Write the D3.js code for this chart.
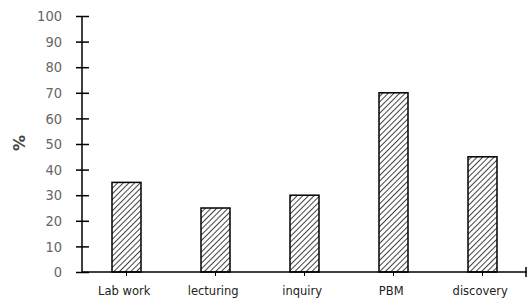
<!DOCTYPE html>
<html>
<head lang="en">
    <meta charset="UTF-8">
    <title> Bars </title>
    <script type="text/javascript" src="https://cdn.jsdelivr.net/npm/d3@7/dist/d3.min.js"></script>
    <style>
        body { margin: 0; background: #fff; }
    </style>
</head>
<body>
<div id="chart"></div>
<script>

    // data
    var categories = ["Lab work", "lecturing", "inquiry", "PBM", "discovery"];
    var values     = [35, 25, 30, 70, 45];
    var yTicks     = [0, 10, 20, 30, 40, 50, 60, 70, 80, 90, 100];

    var W = 527, H = 301;
    // note: "top" is taken by window.top, so use plot* names
    var plotLeft = 82, plotRight = 527, plotTop = 16, plotBottom = 272;

    var svg = d3.select("#chart").append("svg")
            .attr("width", W)
            .attr("height", H);

    // hatch pattern
    var pat = svg.append("defs").append("pattern")
            .attr("id", "hatch")
            .attr("patternUnits", "userSpaceOnUse")
            .attr("width", 4)
            .attr("height", 4)
            .attr("patternTransform", "rotate(45)");
    pat.append("rect").attr("width", 4).attr("height", 4).attr("fill", "#fff");
    pat.append("line")
            .attr("x1", 0).attr("y1", 0).attr("x2", 0).attr("y2", 4)
            .attr("stroke", "#111").attr("stroke-width", 1.6);

    var x = d3.scaleBand()
            .domain(categories)
            .range([plotLeft, plotRight])
            .paddingInner(0)
            .paddingOuter(0);

    var y = d3.scaleLinear()
            .domain([0, 100])
            .range([plotBottom, plotTop]);

    var barW = 29;

    // bars
    svg.selectAll("rect.bar")
            .data(values).enter().append("rect")
            .attr("class", "bar")
            .attr("x", function (d, i) { return x(categories[i]) + x.bandwidth() / 2 - barW / 2; })
            .attr("y", function (d) { return y(d); })
            .attr("width", barW)
            .attr("height", function (d) { return y(0) - y(d); })
            .style("fill", "url(#hatch)")
            .style("stroke", "#000")
            .style("stroke-width", 1.5);

    // y axis
    var yAxis = svg.append("g")
            .attr("transform", "translate(" + plotLeft + ",0)")
            .call(d3.axisLeft(y).tickValues(yTicks).tickSize(6).tickPadding(14));
    yAxis.select(".domain").attr("stroke", "#000").attr("stroke-width", 1.5).attr("d", "M0," + plotTop + "V" + plotBottom);
    yAxis.selectAll(".tick line").attr("stroke", "#000").attr("stroke-width", 1.5).attr("x1", 7);
    yAxis.selectAll(".tick text")
            .style("font-family", "DejaVu Sans Condensed, DejaVu Sans")
            .style("font-size", "14.5px")
            .style("fill", "#666");

    // x axis, ticks at the centre of each category
    var xAxis = svg.append("g")
            .attr("transform", "translate(0," + plotBottom + ")")
            .call(d3.axisBottom(x).tickSize(4).tickPadding(11));
    xAxis.select(".domain").attr("stroke", "#000").attr("stroke-width", 1.5).attr("d", "M" + plotLeft + ",0H" + plotRight);
    xAxis.selectAll(".tick line").attr("stroke", "#000").attr("stroke-width", 1);
    xAxis.append("line")
            .attr("x1", plotRight - 1).attr("x2", plotRight - 1)
            .attr("y1", -5).attr("y2", 5)
            .attr("stroke", "#000").attr("stroke-width", 1.5);
    xAxis.selectAll(".tick text")
            .style("font-family", "Verdana, DejaVu Sans")
            .style("font-size", "11.5px")
            .style("fill", "#222")
            .attr("dx", "-0.2em");

    // y title
    svg.append("text")
            .attr("transform", "translate(25,143) rotate(-90)")
            .attr("text-anchor", "middle")
            .style("font-family", "DejaVu Sans")
            .style("font-weight", "bold")
            .style("font-size", "16px")
            .style("fill", "#444")
            .text("%");

</script>
</body>
</html>
